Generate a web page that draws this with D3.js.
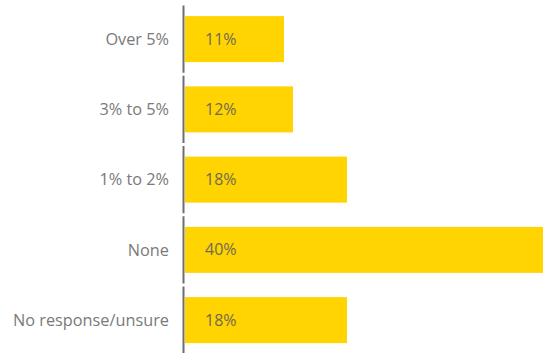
<!DOCTYPE html>
<html>
<head>
<meta charset="utf-8">
<script src="https://cdn.jsdelivr.net/npm/d3@7"></script>
<style>
  body { margin: 0; background: #fff; }
  svg { display: block; }
  text { font-family: "Open Sans", sans-serif; }
</style>
</head>
<body>
<div id="chart"></div>
<script>
const categories = ['Over 5%', '3% to 5%', '1% to 2%', 'None', 'No response/unsure'];
const values = [11, 12, 18, 40, 18];

const width = 543;
const height = 353;
const margin = {top: 4, left: 184};

const svg = d3.select('#chart')
  .append('svg')
  .attr('width', width)
  .attr('height', height);

const x = d3.scaleLinear()
  .domain([0, 40])
  .range([margin.left + 1, margin.left + 1 + 360]);

// outer band = one axis segment per category
const yOuter = d3.scaleBand()
  .domain(categories)
  .range([margin.top, margin.top + 70.25 * categories.length]);

const y = d3.scaleBand()
  .domain(categories)
  .range([margin.top, margin.top + 70.25 * categories.length])
  .paddingInner(0.345)
  .paddingOuter(0.1725);

// segmented axis line
svg.append('g')
  .selectAll('line')
  .data(categories)
  .join('line')
  .attr('x1', margin.left - 0.5)
  .attr('x2', margin.left - 0.5)
  .attr('y1', d => yOuter(d) + 1.5)
  .attr('y2', d => yOuter(d) + yOuter.bandwidth() - 1.5)
  .attr('stroke', '#6e6e6e')
  .attr('stroke-width', 2);

svg.append('g')
  .attr('fill', '#FFD400')
  .selectAll('rect')
  .data(values)
  .join('rect')
  .attr('x', x(0))
  .attr('y', (d, i) => y(categories[i]))
  .attr('width', d => x(d) - x(0))
  .attr('height', y.bandwidth());

// category labels
svg.append('g')
  .selectAll('text')
  .data(categories)
  .join('text')
  .attr('x', margin.left - 15)
  .attr('y', d => y(d) + y.bandwidth() / 2)
  .attr('dy', '0.35em')
  .attr('text-anchor', 'end')
  .attr('font-size', '16.3px')
  .attr('fill', '#7a7a7a')
  .text(d => d);

// value labels
svg.append('g')
  .selectAll('text')
  .data(values)
  .join('text')
  .attr('x', x(0) + 20)
  .attr('y', (d, i) => y(categories[i]) + y.bandwidth() / 2)
  .attr('dy', '0.35em')
  .attr('font-size', '16px')
  .attr('fill', '#6f6a55')
  .text(d => d + '%');
</script>
</body>
</html>
